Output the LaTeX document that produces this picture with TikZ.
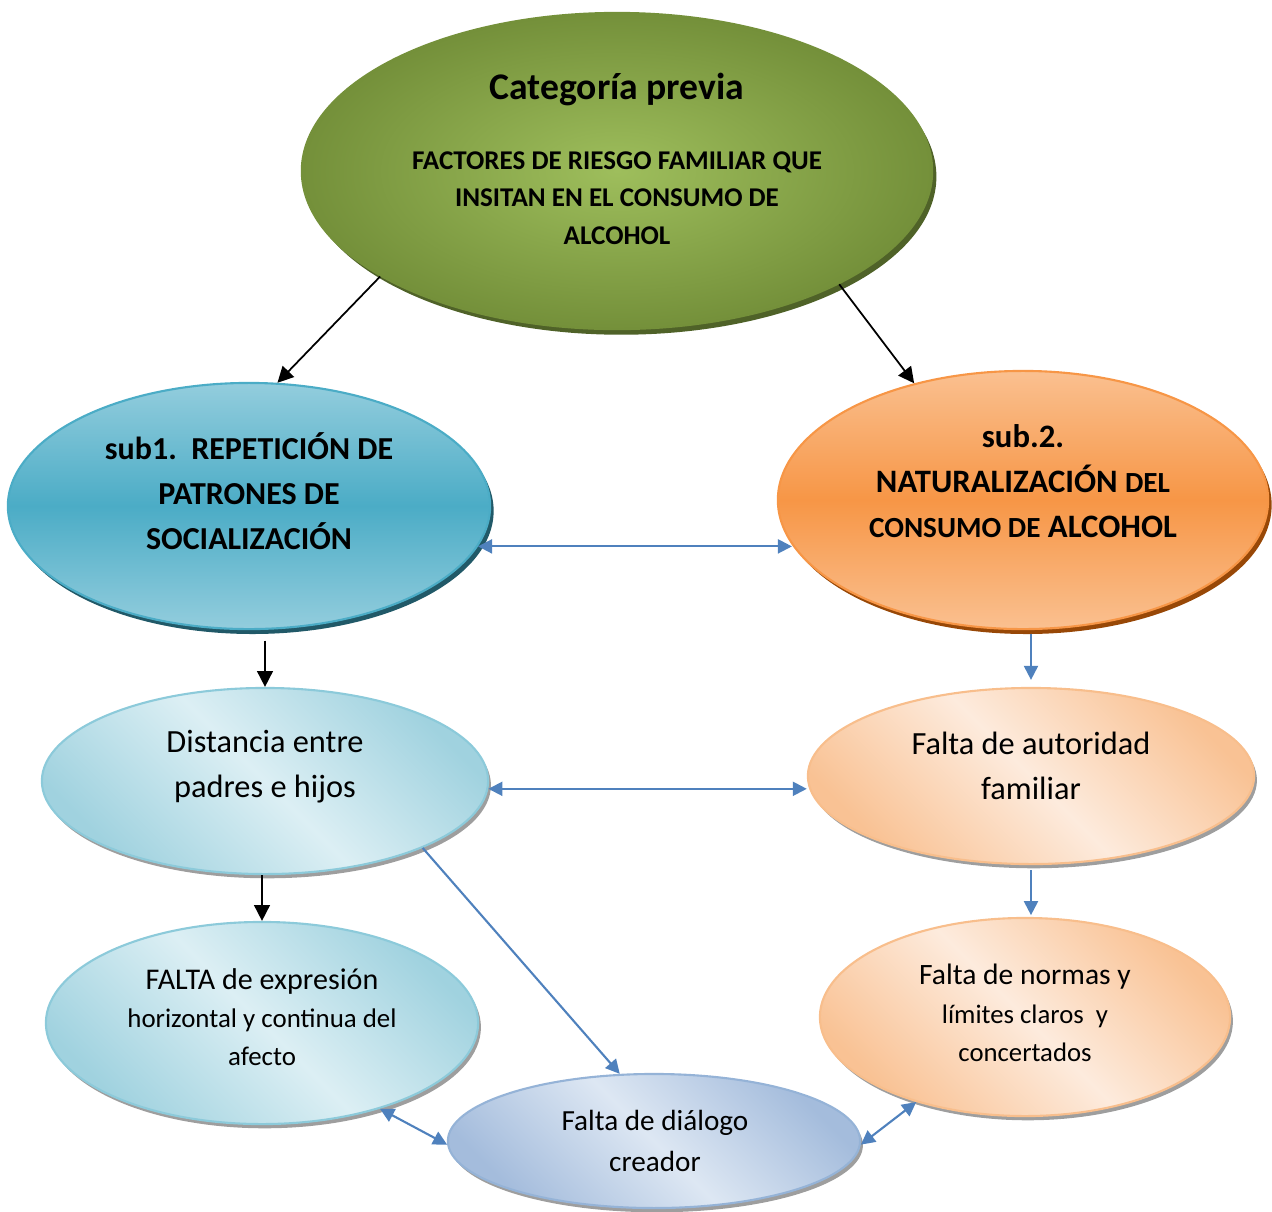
\documentclass[tikz,border=0pt]{standalone}
\usepackage{fontspec}
\setmainfont{Carlito}
\usetikzlibrary{shapes.geometric,shadows,arrows.meta}
\definecolor{gIn}{RGB}{158,190,92}
\definecolor{gOut}{RGB}{116,144,58}
\definecolor{gSh}{RGB}{79,98,40}
\definecolor{tLight}{RGB}{147,205,221}
\definecolor{tMid}{RGB}{75,172,198}
\definecolor{tSh}{RGB}{33,89,104}
\definecolor{oLight}{RGB}{250,192,144}
\definecolor{oMid}{RGB}{247,150,70}
\definecolor{oSh}{RGB}{152,72,7}
\definecolor{aLight}{RGB}{220,239,244}
\definecolor{aDark}{RGB}{160,210,223}
\definecolor{aBorder}{RGB}{140,202,218}
\definecolor{pLight}{RGB}{253,235,221}
\definecolor{pDark}{RGB}{249,194,148}
\definecolor{pBorder}{RGB}{248,190,140}
\definecolor{bLight}{RGB}{221,231,243}
\definecolor{bDark}{RGB}{164,188,220}
\definecolor{bBorder}{RGB}{149,179,215}
\definecolor{lineBlue}{RGB}{79,129,189}
\begin{document}
\begin{tikzpicture}[x=0.01cm,y=-0.01cm,
  ell/.style={ellipse, inner sep=0pt, line width=0.6pt},
  lightsh/.style={drop shadow={fill=black!38, opacity=1, shadow xshift=0.8pt, shadow yshift=-1.2pt}},
  diag/.style 2 args={top color=#1, bottom color=#1, middle color=#2, shading angle=-45},
  vert/.style 2 args={top color=#1, bottom color=#1, middle color=#2},
  txt/.style={align=center, inner sep=0pt, text=black},
  blk/.style={-{Triangle[length=4.5pt,width=4.5pt]}, black, line width=0.5pt},
  blu/.style={-{Triangle[length=4pt,width=4pt]}, lineBlue, line width=0.6pt},
  blu2/.style={{Triangle[length=4pt,width=4pt]}-{Triangle[length=4pt,width=4pt]}, lineBlue, line width=0.6pt}
]
\useasboundingbox (0,0) rectangle (1272,1211);

% ellipses
\node[ell, minimum width=6.30cm, minimum height=3.16cm, inner color=gIn, outer color=gOut, draw=gOut,
  drop shadow={fill=gSh, opacity=1, shadow xshift=1.2pt, shadow yshift=-1.6pt}] (top) at (617,171) {};
\node[ell, minimum width=4.82cm, minimum height=2.46cm, vert={tLight}{tMid}, draw=tMid,
  drop shadow={fill=tSh, opacity=1, shadow xshift=1pt, shadow yshift=-1.4pt}] (sub1) at (249,506) {};
\node[ell, minimum width=4.90cm, minimum height=2.58cm, vert={oLight}{oMid}, draw=oMid,
  drop shadow={fill=oSh, opacity=1, shadow xshift=1pt, shadow yshift=-1.4pt}] (sub2) at (1023,500) {};
\node[ell, lightsh, minimum width=4.46cm, minimum height=1.86cm, diag={aDark}{aLight}, draw=aBorder] (dist) at (265,781) {};
\node[ell, lightsh, minimum width=4.46cm, minimum height=1.76cm, diag={pDark}{pLight}, draw=pBorder] (auth) at (1031,776) {};
\node[ell, lightsh, minimum width=4.32cm, minimum height=2.02cm, diag={aDark}{aLight}, draw=aBorder] (faf) at (262,1023) {};
\node[ell, lightsh, minimum width=4.10cm, minimum height=1.98cm, diag={pDark}{pLight}, draw=pBorder] (norm) at (1025,1017) {};
\node[ell, lightsh, minimum width=4.12cm, minimum height=1.34cm, diag={bDark}{bLight}, draw=bBorder] (dia) at (654,1141) {};

% texts
\node[txt, font=\fontsize{10.7pt}{12pt}\selectfont\bfseries] (topT1) at (617,89) {Categoría previa};
\node[txt, font=\fontsize{7.7pt}{10.67pt}\selectfont\bfseries] (topT2) at (617,198) {FACTORES DE RIESGO FAMILIAR QUE\\INSITAN EN EL CONSUMO DE\\ALCOHOL};
\node[txt, font=\fontsize{9.1pt}{12.8pt}\selectfont\bfseries] (sub1T) at (249,491) {sub1.\ \ REPETICIÓN DE\\PATRONES DE\\SOCIALIZACIÓN};
\node[txt, font=\fontsize{9.3pt}{12.8pt}\selectfont\bfseries] (sub2T) at (1023,481) {sub.2.\\NATURALIZACIÓN {\fontsize{8.3pt}{12.8pt}\selectfont DEL}\\{\fontsize{8.3pt}{12.8pt}\selectfont CONSUMO DE} ALCOHOL};
\node[txt, font=\fontsize{9.2pt}{12.8pt}\selectfont] (distT) at (265,767) {Distancia entre\\padres e hijos};
\node[txt, font=\fontsize{9.2pt}{12.8pt}\selectfont] (authT) at (1031,766) {Falta de autoridad\\familiar};
\node[txt, font=\fontsize{7.65pt}{10.9pt}\selectfont] (fafT) at (262,1017) {{\fontsize{8.55pt}{10.9pt}\selectfont FALTA de expresión}\\horizontal y continua del\\afecto};
\node[txt, font=\fontsize{7.6pt}{10.9pt}\selectfont] (normT) at (1025,1013) {{\fontsize{8.4pt}{10.9pt}\selectfont Falta de normas y}\\límites claros\ \ y\\concertados};
\node[txt, font=\fontsize{8.3pt}{11.7pt}\selectfont] (diaT) at (655,1141) {Falta de diálogo\\creador};

% connectors
\draw[blk] (top.204) -- (sub1.77);
\draw[blk] (top.333) -- (sub2.133);
\draw[blu2] (sub1.350) -- (sub1.350 -| sub2.191);
\draw[blk] ([yshift=-3pt]dist.north |- sub1.south) -- (dist.north);
\draw[blu] ([yshift=-1pt]auth.north |- sub2.south) -- ([yshift=2pt]auth.north);
\draw[blu2] (dist.358) -- (dist.358 -| auth.west);
\draw[blk] (faf.north |- dist.south) -- (faf.north);
\draw[blu] ([yshift=-1.5pt]auth.south) -- ([yshift=0.5pt]auth.south |- norm.north);
\draw[blu] (dist.337) -- (dia.117);
\draw[blu2] (faf.324) -- (dia.181);
\draw[blu2] (dia.359) -- (norm.218);
\end{tikzpicture}
\end{document}
